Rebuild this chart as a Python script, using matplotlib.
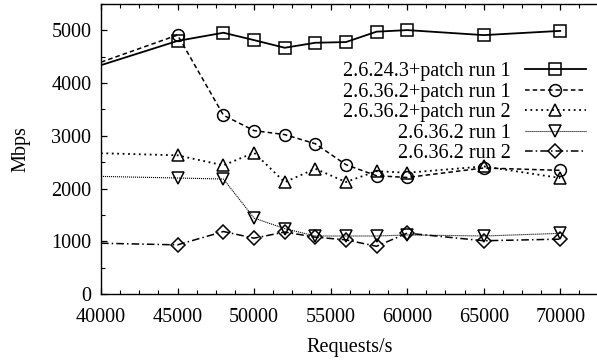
import matplotlib
matplotlib.use("Agg")
import matplotlib.pyplot as plt
from matplotlib.ticker import MultipleLocator

plt.rcParams['font.family'] = ['Liberation Serif', 'DejaVu Serif']
plt.rcParams['font.size'] = 14.5

# Requests/s (first point at 40000 is the line start, no marker drawn)
requests = [40000, 45000, 48000, 50000, 52000, 54000, 56000, 58000, 60000, 65000, 70000]

labels = ["2.6.24.3+patch run 1", "2.6.36.2+patch run 1", "2.6.36.2+patch run 2",
          "2.6.36.2 run 1", "2.6.36.2 run 2"]

p24_run1 = [4340, 4800, 4955, 4815, 4670, 4765, 4778, 4975, 5005, 4910, 4990]
p36_run1 = [4397, 4911, 3390, 3099, 3023, 2850, 2452, 2243, 2210, 2390, 2345]
p36_run2 = [2670, 2630, 2440, 2680, 2120, 2376, 2124, 2330, 2300, 2420, 2200]
v36_run1 = [2230, 2200, 2180, 1440, 1240, 1100, 1100, 1100, 1120, 1100, 1150]
v36_run2 = [963, 932, 1185, 1059, 1175, 1078, 1027, 905, 1154, 1010, 1040]

series = [p24_run1, p36_run1, p36_run2, v36_run1, v36_run2]
markers = ['s', 'o', '^', 'v', 'D']
msizes = [8.5, 8.5, 8, 8, 7]
styles = ['-', (0, (3, 2)), (0, (1, 2)), (0, (1, 0.8)), (0, (5, 2, 1, 2))]
lwidths = [1.3, 1.1, 1.3, 0.8, 1.1]

fig = plt.figure(figsize=(5.97, 3.6), dpi=100)
ax = fig.add_axes([101/597, 66/360, 497.5/597, 290/360])

for vals, lab, m, ms, ls, lw in zip(series, labels, markers, msizes, styles, lwidths):
    ax.plot(requests, vals, color='black', linestyle=ls, linewidth=lw,
            marker=m, markersize=ms, markerfacecolor='none', markeredgewidth=1.1,
            markeredgecolor='black', markevery=list(range(1, len(requests))),
            label=lab)

ax.set_xlim(40000, 72500)
ax.set_ylim(0, 5500)
ax.xaxis.set_major_locator(MultipleLocator(5000))
ax.xaxis.set_minor_locator(MultipleLocator(1250))
ax.yaxis.set_major_locator(MultipleLocator(1000))
ax.yaxis.set_minor_locator(MultipleLocator(500))
ax.tick_params(which='both', direction='in', top=True, right=False)
ax.tick_params(axis='x', which='major', pad=10)
ax.tick_params(axis='y', which='major', pad=7)
ax.tick_params(which='major', length=4.5, width=0.9, labelsize=14.5)
ax.tick_params(which='minor', length=3, width=0.8)
ax.spines['right'].set_visible(False)
for s in ax.spines.values():
    s.set_linewidth(1.0)

ax.set_xlabel("Requests/s", fontsize=14.5, labelpad=8)
ax.set_ylabel("Mbps", fontsize=14.5, labelpad=15)

leg = ax.legend(loc='upper right', bbox_to_anchor=(0.974, 0.80), frameon=False,
                markerfirst=False, handlelength=3.0, handletextpad=0.7,
                labelspacing=0.07, fontsize=14.5, borderaxespad=0, borderpad=0)

fig.savefig("out.png", dpi=100)
